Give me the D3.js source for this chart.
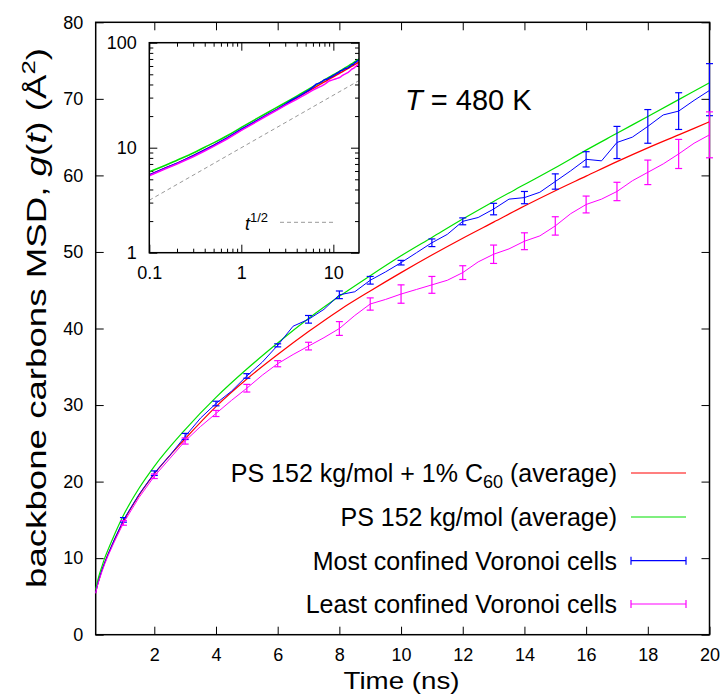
<!DOCTYPE html>
<html>
<head>
<meta charset="utf-8">
<script src="https://cdn.jsdelivr.net/npm/d3@7"></script>
<style>
    body { margin: 0; background: #fff; }
    svg { display: block; font-family: "Liberation Sans", Arial, Helvetica, sans-serif; }
</style>
</head>
<body>
<div class="chart"></div>
<script>
/* smooth averages (ns, Å^2) */
const smoothT = [0.1, 0.15, 0.2, 0.3, 0.4, 0.5, 0.7, 1, 1.5, 2, 3, 4, 5, 6, 7, 8, 9, 10, 11, 12, 13, 14, 15, 16, 17, 18, 19, 20];
const redG = [5.5, 6.4, 7.1, 8.4, 9.5, 10.5, 12.3, 14.8, 18.2, 21.0, 25.6, 29.8, 33.4, 36.6, 39.6, 42.4, 44.9, 47.3, 49.6, 51.8, 53.9, 56.0, 58.0, 59.9, 61.8, 63.6, 65.3, 67.0];
const greenG = [5.9, 6.8, 7.6, 8.9, 10.1, 11.1, 13.0, 15.6, 19.1, 22.0, 26.8, 31.0, 34.7, 38.1, 41.3, 44.2, 46.9, 49.5, 51.9, 54.3, 56.6, 58.8, 61.0, 63.3, 65.5, 67.7, 69.9, 72.1];

/* noisy subsets */
const noisyT = [0.1, 0.15, 0.2, 0.3, 0.4, 0.5, 0.7, 1, 1.5, 2, 2.5, 3, 3.5, 4, 4.5, 5, 5.5, 6, 6.5, 7, 7.5, 8, 8.5, 9, 9.5, 10, 10.5, 11, 11.5, 12, 12.5, 13, 13.5, 14, 14.5, 15, 15.5, 16, 16.5, 17, 17.5, 18, 18.5, 19, 19.5, 20];
const blueG = [5.5, 6.4, 7.1, 8.4, 9.5, 10.5, 12.4, 15.0, 18.3, 21.1, 23.4, 25.9, 28.3, 30.2, 31.8, 33.8, 35.6, 37.8, 40.3, 41.2, 42.5, 44.4, 44.8, 46.3, 47.4, 48.6, 49.9, 51.2, 52.3, 54.0, 54.5, 55.6, 56.9, 57.1, 57.8, 59.2, 60.6, 62.1, 61.9, 64.3, 65.0, 66.4, 67.9, 68.4, 69.8, 71.1];
const magentaG = [5.4, 6.3, 7.0, 8.2, 9.3, 10.3, 12.1, 14.6, 17.9, 20.7, 23.0, 25.3, 27.2, 28.9, 30.6, 32.2, 33.9, 35.4, 36.6, 37.7, 38.8, 40.0, 41.7, 43.2, 43.8, 44.5, 45.1, 45.7, 46.3, 47.3, 48.7, 49.7, 50.4, 51.4, 52.1, 53.4, 55.0, 56.2, 56.9, 57.9, 59.3, 60.4, 61.5, 62.8, 64.2, 65.3];

/* error bars */
const barT = [1, 2, 3, 4, 5, 6, 7, 8, 9, 10, 11, 12, 13, 14, 15, 16, 17, 18, 19, 20];
const blueMean = [15.0, 21.1, 25.9, 30.2, 33.8, 37.8, 41.2, 44.4, 46.3, 48.6, 51.2, 54.0, 55.6, 57.1, 59.2, 62.1, 64.3, 66.4, 68.4, 71.2];
const blueErr = [0.3, 0.3, 0.4, 0.3, 0.3, 0.2, 0.5, 0.5, 0.5, 0.3, 0.5, 0.45, 0.75, 0.8, 1.0, 1.0, 2.1, 2.2, 2.4, 3.4];
const magentaMean = [14.6, 20.7, 25.3, 28.9, 32.2, 35.4, 37.7, 40.0, 43.2, 44.5, 45.7, 47.3, 49.7, 51.4, 53.4, 56.2, 57.9, 60.4, 62.8, 65.3];
const magentaErr = [0.3, 0.3, 0.4, 0.4, 0.5, 0.4, 0.5, 0.9, 0.8, 1.2, 1.1, 0.9, 1.2, 1.1, 1.2, 1.1, 1.2, 1.6, 1.9, 3.0];

/* t^1/2 guide in the inset */
const refT = [0.1, 20];
const refG = [3.16, 44.7];

/* ticks */
const xTicks = [2, 4, 6, 8, 10, 12, 14, 16, 18, 20];
const yTicks = [0, 10, 20, 30, 40, 50, 60, 70, 80];
const insetXTicks = [0.1, 1, 10];
const insetYTicks = [1, 10, 100];

const legendLabels = ['PS 152 kg/mol + 1% C', 'PS 152 kg/mol (average)', 'Most confined Voronoi cells', 'Least confined Voronoi cells'];
const colors = ['#ff0000', '#00e000', '#0000ff', '#ff00ff'];

const W = 722, H = 696;
const frame = { left: 95.7, right: 709.5, top: 22.3, bottom: 634.7 };
const inset = { left: 149.3, right: 359, top: 42.7, bottom: 252.7 };

const svg = d3.select('.chart').append('svg').attr('width', W).attr('height', H);

const x = d3.scaleLinear().domain([0.1, 20]).range([frame.left, frame.right]);
const y = d3.scaleLinear().domain([0, 80]).range([frame.bottom, frame.top]);

/* tengelyek: befelé álló jelölők minden oldalon */
function styleAxis(g, size) {
    g.select('.domain').remove();
    g.attr('font-family', null).attr('font-size', null);
    g.selectAll('text').style('font-size', size + 'px').attr('fill', '#000');
    g.selectAll('line').attr('stroke', '#000');
}

svg.append('g').attr('transform', 'translate(0,' + frame.bottom + ')')
    .call(d3.axisBottom(x).tickValues(xTicks).tickSizeInner(-8).tickSizeOuter(0).tickPadding(13.5))
    .call(styleAxis, 18);
svg.append('g').attr('transform', 'translate(0,' + frame.top + ')')
    .call(d3.axisTop(x).tickValues(xTicks).tickSizeInner(-8).tickSizeOuter(0).tickFormat(''))
    .call(styleAxis, 18);
svg.append('g').attr('transform', 'translate(' + frame.left + ',0)')
    .call(d3.axisLeft(y).tickValues(yTicks).tickSizeInner(-8).tickSizeOuter(0).tickPadding(12.5))
    .call(styleAxis, 18);
svg.append('g').attr('transform', 'translate(' + frame.right + ',0)')
    .call(d3.axisRight(y).tickValues(yTicks).tickSizeInner(-8).tickSizeOuter(0).tickFormat(''))
    .call(styleAxis, 18);

svg.append('rect')
    .attr('x', frame.left).attr('y', frame.top)
    .attr('width', frame.right - frame.left).attr('height', frame.bottom - frame.top)
    .attr('fill', 'none').attr('stroke', '#000').attr('stroke-width', 1.5);

/* görbék */
const smoothLine = d3.line().x(function (d) { return x(d[0]); }).y(function (d) { return y(d[1]); }).curve(d3.curveMonotoneX);
const rawLine = d3.line().x(function (d) { return x(d[0]); }).y(function (d) { return y(d[1]); });

const plot = svg.append('g').attr('class', 'plot');

function drawBars(mean, err, color) {
    const bars = plot.append('g').attr('stroke', color).attr('stroke-width', 1.2);
    barT.forEach(function (t, i) {
        const cx = x(t), y0 = y(mean[i] - err[i]), y1 = y(mean[i] + err[i]);
        bars.append('line').attr('x1', cx).attr('x2', cx).attr('y1', y0).attr('y2', y1);
        bars.append('line').attr('x1', cx - 3.5).attr('x2', cx + 3.5).attr('y1', y0).attr('y2', y0);
        bars.append('line').attr('x1', cx - 3.5).attr('x2', cx + 3.5).attr('y1', y1).attr('y2', y1);
    });
}

plot.append('path').datum(d3.zip(smoothT, redG)).attr('d', smoothLine)
    .attr('fill', 'none').attr('stroke', colors[0]).attr('stroke-width', 1.2);
plot.append('path').datum(d3.zip(smoothT, greenG)).attr('d', smoothLine)
    .attr('fill', 'none').attr('stroke', colors[1]).attr('stroke-width', 1.2);
plot.append('path').datum(d3.zip(noisyT, blueG)).attr('d', rawLine)
    .attr('fill', 'none').attr('stroke', colors[2]).attr('stroke-width', 1);
drawBars(blueMean, blueErr, colors[2]);
plot.append('path').datum(d3.zip(noisyT, magentaG)).attr('d', rawLine)
    .attr('fill', 'none').attr('stroke', colors[3]).attr('stroke-width', 1);
drawBars(magentaMean, magentaErr, colors[3]);

/* feliratok */
svg.append('text')
    .attr('x', 405).attr('y', 109.5)
    .style('font-size', '29px')
    .call(function (t) {
        t.append('tspan').style('font-style', 'italic').text('T');
        t.append('tspan').text(' = 480 K');
    });

svg.append('text')
    .attr('x', 401.5).attr('y', 689)
    .attr('text-anchor', 'middle')
    .attr('textLength', 116).attr('lengthAdjust', 'spacingAndGlyphs')
    .style('font-size', '24px')
    .text('Time (ns)');

svg.append('text')
    .attr('transform', 'translate(46,318) rotate(-90)')
    .attr('text-anchor', 'middle')
    .attr('textLength', 540).attr('lengthAdjust', 'spacingAndGlyphs')
    .style('font-size', '27px')
    .call(function (t) {
        t.append('tspan').text('backbone carbons MSD, ');
        t.append('tspan').style('font-style', 'italic').text('g');
        t.append('tspan').text('(');
        t.append('tspan').style('font-style', 'italic').text('t');
        t.append('tspan').text(') (Å');
        t.append('tspan').attr('dy', -11).style('font-size', '19px').text('2');
        t.append('tspan').attr('dy', 11).text(')');
    });

/* jelmagyarázat */
const legendY = [473, 517, 560.7, 604];
const legend = svg.append('g').attr('class', 'legend');
legendLabels.forEach(function (label, i) {
    const txt = legend.append('text')
        .attr('x', 617).attr('y', legendY[i] + 8.8)
        .attr('text-anchor', 'end')
        .style('font-size', '25px');
    txt.append('tspan').text(label);
    if (i === 0) {
        txt.append('tspan').attr('dy', 6).style('font-size', '18px').text('60');
        txt.append('tspan').attr('dy', -6).text(' (average)');
    }
    legend.append('line')
        .attr('x1', 631).attr('x2', 686).attr('y1', legendY[i]).attr('y2', legendY[i])
        .attr('stroke', colors[i]).attr('stroke-width', 1.2);
    if (i >= 2) {
        [631, 686].forEach(function (cx) {
            legend.append('line').attr('x1', cx).attr('x2', cx)
                .attr('y1', legendY[i] - 4).attr('y2', legendY[i] + 4)
                .attr('stroke', colors[i]).attr('stroke-width', 1.2);
        });
    }
});

/* beágyazott log-log ábra */
const xi = d3.scaleLog().domain([0.1, 19]).range([inset.left, inset.right]);
const yi = d3.scaleLog().domain([1, 100]).range([inset.bottom, inset.top]);
const minorX = xi.ticks().filter(function (v) { return insetXTicks.indexOf(v) < 0 && v < 19; });
const minorY = yi.ticks().filter(function (v) { return insetYTicks.indexOf(v) < 0; });

const ins = svg.append('g').attr('class', 'inset');
ins.append('rect')
    .attr('x', inset.left).attr('y', inset.top)
    .attr('width', inset.right - inset.left).attr('height', inset.bottom - inset.top)
    .attr('fill', '#fff');

ins.append('g').attr('transform', 'translate(0,' + inset.bottom + ')')
    .call(d3.axisBottom(xi).tickValues(insetXTicks).tickFormat(d3.format('~g')).tickSizeInner(-8).tickSizeOuter(0).tickPadding(14))
    .call(styleAxis, 18);
ins.append('g').attr('transform', 'translate(0,' + inset.bottom + ')')
    .call(d3.axisBottom(xi).tickValues(minorX).tickFormat('').tickSizeInner(-4).tickSizeOuter(0))
    .call(styleAxis, 18);
ins.append('g').attr('transform', 'translate(0,' + inset.top + ')')
    .call(d3.axisTop(xi).tickValues(insetXTicks).tickFormat('').tickSizeInner(-8).tickSizeOuter(0))
    .call(styleAxis, 18);
ins.append('g').attr('transform', 'translate(0,' + inset.top + ')')
    .call(d3.axisTop(xi).tickValues(minorX).tickFormat('').tickSizeInner(-4).tickSizeOuter(0))
    .call(styleAxis, 18);
ins.append('g').attr('transform', 'translate(' + inset.left + ',0)')
    .call(d3.axisLeft(yi).tickValues(insetYTicks).tickFormat(d3.format('~g')).tickSizeInner(-8).tickSizeOuter(0).tickPadding(12.5))
    .call(styleAxis, 18);
ins.append('g').attr('transform', 'translate(' + inset.left + ',0)')
    .call(d3.axisLeft(yi).tickValues(minorY).tickFormat('').tickSizeInner(-4).tickSizeOuter(0))
    .call(styleAxis, 18);
ins.append('g').attr('transform', 'translate(' + inset.right + ',0)')
    .call(d3.axisRight(yi).tickValues(insetYTicks).tickFormat('').tickSizeInner(-8).tickSizeOuter(0))
    .call(styleAxis, 18);
ins.append('g').attr('transform', 'translate(' + inset.right + ',0)')
    .call(d3.axisRight(yi).tickValues(minorY).tickFormat('').tickSizeInner(-4).tickSizeOuter(0))
    .call(styleAxis, 18);

svg.append('clipPath').attr('id', 'inset-clip').append('rect')
    .attr('x', inset.left).attr('y', inset.top)
    .attr('width', inset.right - inset.left).attr('height', inset.bottom - inset.top);

const logSmooth = d3.line().x(function (d) { return xi(d[0]); }).y(function (d) { return yi(d[1]); }).curve(d3.curveMonotoneX);
const logRaw = d3.line().x(function (d) { return xi(d[0]); }).y(function (d) { return yi(d[1]); });
const insPlot = ins.append('g').attr('clip-path', 'url(#inset-clip)');

insPlot.append('path').datum(d3.zip(refT, refG)).attr('d', logRaw)
    .attr('fill', 'none').attr('stroke', '#999').attr('stroke-width', 1).attr('stroke-dasharray', '4,3');
insPlot.append('path').datum(d3.zip(smoothT, redG)).attr('d', logSmooth)
    .attr('fill', 'none').attr('stroke', colors[0]).attr('stroke-width', 1.5);
insPlot.append('path').datum(d3.zip(smoothT, greenG)).attr('d', logSmooth)
    .attr('fill', 'none').attr('stroke', colors[1]).attr('stroke-width', 1.5);
insPlot.append('path').datum(d3.zip(noisyT, blueG)).attr('d', logRaw)
    .attr('fill', 'none').attr('stroke', colors[2]).attr('stroke-width', 1.5);
insPlot.append('path').datum(d3.zip(noisyT, magentaG)).attr('d', logRaw)
    .attr('fill', 'none').attr('stroke', colors[3]).attr('stroke-width', 1.5);

ins.append('rect')
    .attr('x', inset.left).attr('y', inset.top)
    .attr('width', inset.right - inset.left).attr('height', inset.bottom - inset.top)
    .attr('fill', 'none').attr('stroke', '#000').attr('stroke-width', 1.5);

/* t^1/2 jelmagyarázat */
ins.append('text')
    .attr('x', 268).attr('y', 230)
    .attr('text-anchor', 'end')
    .style('font-size', '18px')
    .call(function (t) {
        t.append('tspan').style('font-style', 'italic').text('t');
        t.append('tspan').attr('dy', -8).style('font-size', '13px').text('1/2');
    });
ins.append('line')
    .attr('x1', 280).attr('x2', 336).attr('y1', 222.3).attr('y2', 222.3)
    .attr('stroke', '#999').attr('stroke-width', 1).attr('stroke-dasharray', '4,3');
</script>
</body>
</html>
